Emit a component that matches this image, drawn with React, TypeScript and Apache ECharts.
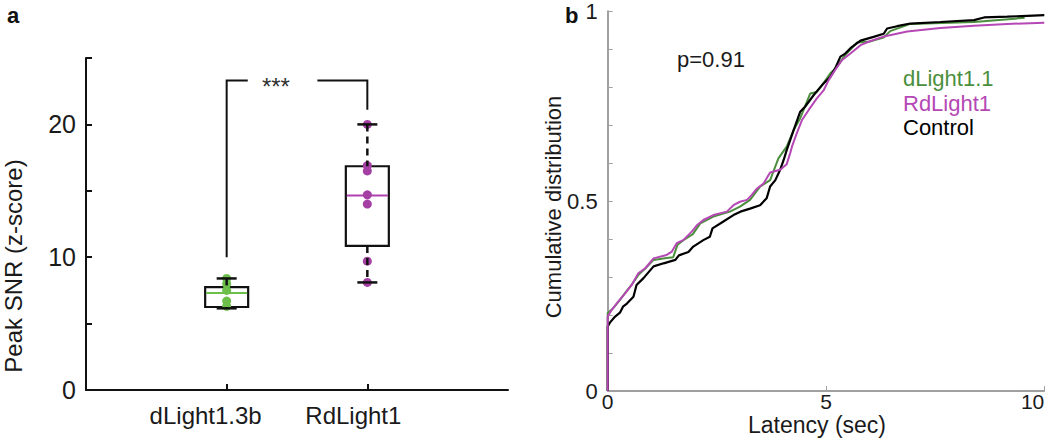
import React, { useEffect, useRef } from "react";
import * as echarts from "echarts";

// ---------- Panel a data ----------
const groupNames = ["dLight1.3b", "RdLight1"];
const groupPositions = [1, 2];
const dLightPoints = [8.4, 8.0, 7.5, 6.7, 6.3];
const rdLightPoints = [20.0, 16.9, 16.5, 14.7, 14.0, 9.7, 8.1];
// [min, q1, median, q3, max]
const dLightBox = [6.15, 6.25, 7.3, 7.75, 8.4];
const rdLightBox = [8.1, 10.85, 14.65, 16.85, 20.0];
const snrTickValues = [0, 5, 10, 15, 20, 25];
const snrLabelValues = [0, 10, 20];
// [leftX, rightX, leftBottom, rightBottom, top, gapStart, gapEnd, starX]
const bracket = [1, 2, 10, 21.1, 23.3, 1.15, 1.645, 1.35];

// ---------- Panel b data ----------
const latencyTicks = [0, 5, 10];
const cdfLabelValues = [0, 0.5, 1];
const dLight11 = [
  [0, 0], [0, 0.205], [0.1, 0.215], [0.25, 0.235], [0.4, 0.258], [0.55, 0.28], [0.7, 0.305],
  [0.86, 0.322], [1.05, 0.345], [1.35, 0.35], [1.5, 0.352], [1.6, 0.385], [1.75, 0.398],
  [1.95, 0.413], [2.12, 0.441], [2.42, 0.459], [2.8, 0.472], [3.03, 0.485], [3.26, 0.503],
  [3.49, 0.538], [3.72, 0.555], [3.91, 0.612], [4.1, 0.643], [4.26, 0.687], [4.41, 0.718],
  [4.64, 0.783], [4.79, 0.787], [4.91, 0.805], [5.1, 0.836], [5.25, 0.853], [5.41, 0.88],
  [5.71, 0.917], [6.02, 0.92], [6.32, 0.93], [6.47, 0.947], [6.93, 0.966], [8.39, 0.971],
  [9.55, 0.982],
];
const rdLight1 = [
  [0, 0], [0, 0.196], [0.09, 0.213], [0.24, 0.235], [0.4, 0.257], [0.55, 0.279], [0.7, 0.31],
  [0.86, 0.323], [1.05, 0.349], [1.35, 0.358], [1.47, 0.367], [1.58, 0.389], [1.73, 0.397],
  [1.93, 0.42], [2.05, 0.437], [2.19, 0.45], [2.42, 0.463], [2.73, 0.472], [2.88, 0.489],
  [3.03, 0.498], [3.19, 0.503], [3.3, 0.516], [3.42, 0.533], [3.57, 0.546], [3.72, 0.575],
  [3.95, 0.582], [4.1, 0.597], [4.18, 0.626], [4.22, 0.643], [4.33, 0.678], [4.45, 0.713],
  [4.6, 0.739], [4.79, 0.77], [4.95, 0.792], [5.06, 0.818], [5.21, 0.845], [5.37, 0.871],
  [5.56, 0.888], [5.79, 0.91], [6.02, 0.921], [6.3, 0.932], [6.86, 0.946], [7.62, 0.955],
  [8.39, 0.961], [9.15, 0.966], [10, 0.969],
];
const control = [
  [0, 0], [0, 0.17], [0.05, 0.18], [0.17, 0.196], [0.28, 0.206], [0.35, 0.222], [0.44, 0.23],
  [0.59, 0.248], [0.66, 0.279], [0.82, 0.297], [1.05, 0.328], [1.28, 0.336], [1.55, 0.345],
  [1.63, 0.357], [1.85, 0.366], [1.96, 0.38], [2.19, 0.397], [2.34, 0.406], [2.4, 0.428],
  [2.65, 0.446], [2.88, 0.463], [3.04, 0.472], [3.26, 0.48], [3.49, 0.489], [3.64, 0.507],
  [3.72, 0.538], [3.84, 0.555], [3.95, 0.582], [4.03, 0.608], [4.1, 0.634], [4.18, 0.66],
  [4.26, 0.687], [4.41, 0.735], [4.52, 0.748], [4.72, 0.779], [4.91, 0.805], [5.1, 0.827],
  [5.21, 0.849], [5.33, 0.88], [5.44, 0.888], [5.56, 0.902], [5.79, 0.922], [6.09, 0.932],
  [6.32, 0.94], [6.4, 0.954], [6.63, 0.96], [6.93, 0.967], [7.62, 0.971], [8.39, 0.976],
  [8.62, 0.983], [9.15, 0.985], [10, 0.989],
];

const FONT = '"Liberation Sans", Arial, sans-serif';
const TEXT = "#1a1a1a";
const GREEN_DOT = "#6cc04a";
const PURPLE_DOT = "#a440a4";
const GREEN_LINE = "#4b8f3d";
const MAGENTA_LINE = "#b548b5";
const medianColors = [GREEN_DOT, "#b040b0"];

export default function App() {
  const ref = useRef<HTMLDivElement>(null);

  useEffect(() => {
    if (!ref.current) return;
    const chart = echarts.init(ref.current, undefined, { renderer: "svg" });

    const boxData = [
      [groupPositions[0], ...dLightBox],
      [groupPositions[1], ...rdLightBox],
    ];

    const option: any = {
      animation: false,
      textStyle: { fontFamily: FONT },
      grid: [
        { left: 86, top: 58, width: 422, height: 332, containLabel: false, outerBoundsMode: "none" },
        { left: 607.7, top: 11, width: 436.6, height: 380, containLabel: false, outerBoundsMode: "none" },
      ],
      xAxis: [
        {
          gridIndex: 0,
          type: "value",
          min: 0,
          max: 3,
          interval: 1,
          splitLine: { show: false },
          axisLine: { show: true, lineStyle: { color: "#111", width: 2 } },
          axisTick: { show: true, inside: true, length: 6, customValues: groupPositions, lineStyle: { color: "#111", width: 2 } },
          axisLabel: {
            show: true,
            customValues: groupPositions,
            margin: 13,
            fontSize: 24,
            color: TEXT,
            fontFamily: FONT,
            formatter: (v: number) => {
              const i = groupPositions.indexOf(v);
              if (i < 0) return "";
              return i === 0 ? `{a|${groupNames[i]}}` : `{b|${groupNames[i]}}`;
            },
            rich: {
              a: { fontSize: 24, color: TEXT, fontFamily: FONT, padding: [0, 42, 0, 0] },
              b: { fontSize: 24, color: TEXT, fontFamily: FONT, padding: [0, 28, 0, 0] },
            },
          },
        },
        {
          gridIndex: 1,
          type: "value",
          min: 0,
          max: 10,
          interval: 5,
          splitLine: { show: false },
          axisLine: { show: true, lineStyle: { color: "#808080", width: 1.5 } },
          axisTick: { show: true, inside: true, length: 5, lineStyle: { color: "#a0a0a0", width: 1 } },
          axisLabel: {
            show: true,
            customValues: latencyTicks,
            margin: 0,
            fontSize: 21,
            color: TEXT,
            fontFamily: FONT,
            alignMaxLabel: "right",
          },
        },
      ],
      yAxis: [
        {
          gridIndex: 0,
          type: "value",
          min: 0,
          max: 25,
          interval: 5,
          splitLine: { show: false },
          axisLine: { show: true, lineStyle: { color: "#111", width: 2 } },
          axisTick: { show: true, inside: true, length: 6, customValues: snrTickValues, lineStyle: { color: "#111", width: 2 } },
          axisLabel: { show: true, customValues: snrLabelValues, margin: 10, fontSize: 25, color: TEXT, fontFamily: FONT },
        },
        {
          gridIndex: 1,
          type: "value",
          min: 0,
          max: 1,
          interval: 0.1,
          splitLine: { show: false },
          axisLine: { show: true, lineStyle: { color: "#808080", width: 1.5 } },
          axisTick: { show: true, inside: true, length: 5, lineStyle: { color: "#a0a0a0", width: 1 } },
          axisLabel: {
            show: true,
            customValues: cdfLabelValues,
            margin: 10,
            fontSize: 22,
            color: TEXT,
            fontFamily: FONT,
            formatter: (v: number) => String(Math.round(v * 10) / 10),
          },
        },
      ],
      series: [
        // boxes + medians
        {
          type: "custom",
          xAxisIndex: 0,
          yAxisIndex: 0,
          z: 2,
          data: boxData,
          renderItem: (params: any, api: any) => {
            const x = api.value(0);
            const q1 = api.coord([x, api.value(2)]);
            const med = api.coord([x, api.value(3)]);
            const q3 = api.coord([x, api.value(4)]);
            const hw = 21.5;
            return {
              type: "group",
              children: [
                {
                  type: "rect",
                  shape: { x: q1[0] - hw, y: q3[1], width: hw * 2, height: q1[1] - q3[1] },
                  style: { fill: "#fff", stroke: "#111", lineWidth: 2.2 },
                },
                {
                  type: "line",
                  shape: { x1: med[0] - hw + 1, y1: med[1], x2: med[0] + hw - 1, y2: med[1] },
                  style: { stroke: medianColors[params.dataIndex], lineWidth: 2 },
                },
              ],
            };
          },
        },
        // dots
        {
          type: "scatter",
          xAxisIndex: 0,
          yAxisIndex: 0,
          z: 3,
          symbolSize: 9,
          itemStyle: { color: GREEN_DOT, opacity: 1 },
          data: dLightPoints.map((v) => [groupPositions[0], v]),
        },
        {
          type: "scatter",
          xAxisIndex: 0,
          yAxisIndex: 0,
          z: 3,
          symbolSize: 9,
          itemStyle: { color: PURPLE_DOT, opacity: 1 },
          data: rdLightPoints.map((v) => [groupPositions[1], v]),
        },
        // whiskers + caps
        {
          type: "custom",
          xAxisIndex: 0,
          yAxisIndex: 0,
          z: 4,
          data: boxData,
          renderItem: (params: any, api: any) => {
            const x = api.value(0);
            const mn = api.coord([x, api.value(1)]);
            const q1 = api.coord([x, api.value(2)]);
            const q3 = api.coord([x, api.value(4)]);
            const mx = api.coord([x, api.value(5)]);
            const cw = 10;
            const ws = { stroke: "#111", lineWidth: 2.5, lineDash: [7, 5] };
            const cs = { stroke: "#111", lineWidth: 2.5 };
            return {
              type: "group",
              children: [
                { type: "line", shape: { x1: mx[0], y1: mx[1], x2: q3[0], y2: q3[1] }, style: ws },
                { type: "line", shape: { x1: q1[0], y1: q1[1], x2: mn[0], y2: mn[1] }, style: ws },
                { type: "line", shape: { x1: mx[0] - cw, y1: mx[1], x2: mx[0] + cw, y2: mx[1] }, style: cs },
                { type: "line", shape: { x1: mn[0] - cw, y1: mn[1], x2: mn[0] + cw, y2: mn[1] }, style: cs },
              ],
            };
          },
        },
        // significance bracket
        {
          type: "custom",
          xAxisIndex: 0,
          yAxisIndex: 0,
          z: 2,
          data: [bracket],
          renderItem: (params: any, api: any) => {
            const l = api.value(0), r = api.value(1);
            const lb = api.value(2), rb = api.value(3), top = api.value(4);
            const g0 = api.value(5), g1 = api.value(6), sx = api.value(7);
            const p = (a: number, b: number) => api.coord([a, b]);
            const st = { stroke: "#111", lineWidth: 2, fill: "none" };
            const star = p(sx, top);
            return {
              type: "group",
              children: [
                { type: "polyline", shape: { points: [p(l, lb), p(l, top), p(g0, top)] }, style: st },
                { type: "polyline", shape: { points: [p(g1, top), p(r, top), p(r, rb)] }, style: st },
                {
                  type: "text",
                  x: star[0],
                  y: star[1] + 6,
                  style: { text: "***", fill: "#333", font: `24px ${FONT}`, align: "center", verticalAlign: "middle" },
                },
              ],
            };
          },
        },
        // CDF lines
        {
          name: "dLight1.1",
          type: "line",
          xAxisIndex: 1,
          yAxisIndex: 1,
          showSymbol: false,
          symbol: "none",
          data: dLight11,
          lineStyle: { color: GREEN_LINE, width: 2 },
          z: 2,
        },
        {
          name: "Control",
          type: "line",
          xAxisIndex: 1,
          yAxisIndex: 1,
          showSymbol: false,
          symbol: "none",
          data: control,
          lineStyle: { color: "#000", width: 2.2 },
          z: 3,
        },
        {
          name: "RdLight1",
          type: "line",
          xAxisIndex: 1,
          yAxisIndex: 1,
          showSymbol: false,
          symbol: "none",
          data: rdLight1,
          lineStyle: { color: MAGENTA_LINE, width: 2 },
          z: 4,
        },
      ],
      graphic: [
        { type: "text", x: 7, y: 15, style: { text: "a", font: `bold 22px ${FONT}`, fill: "#111", align: "left", verticalAlign: "middle" } },
        { type: "text", x: 565, y: 15, style: { text: "b", font: `bold 22px ${FONT}`, fill: "#111", align: "left", verticalAlign: "middle" } },
        {
          type: "text",
          x: 13,
          y: 266,
          rotation: Math.PI / 2,
          style: { text: "Peak SNR (z-score)", font: `24px ${FONT}`, fill: TEXT, align: "center", verticalAlign: "middle" },
        },
        {
          type: "text",
          x: 553,
          y: 207,
          rotation: Math.PI / 2,
          style: { text: "Cumulative distribution", font: `22px ${FONT}`, fill: TEXT, align: "center", verticalAlign: "middle" },
        },
        { type: "text", x: 817, y: 425, style: { text: "Latency (sec)", font: `23px ${FONT}`, fill: TEXT, align: "center", verticalAlign: "middle" } },
        { type: "text", x: 677, y: 59, style: { text: "p=0.91", font: `22px ${FONT}`, fill: TEXT, align: "left", verticalAlign: "middle" } },
        { type: "text", x: 903, y: 78, style: { text: "dLight1.1", font: `22px ${FONT}`, fill: GREEN_LINE, align: "left", verticalAlign: "middle" } },
        { type: "text", x: 903, y: 103, style: { text: "RdLight1", font: `22px ${FONT}`, fill: MAGENTA_LINE, align: "left", verticalAlign: "middle" } },
        { type: "text", x: 903, y: 127, style: { text: "Control", font: `22px ${FONT}`, fill: "#000", align: "left", verticalAlign: "middle" } },
      ],
    };

    chart.setOption(option);
    return () => chart.dispose();
  }, []);

  return <div ref={ref} style={{ position: "absolute", left: 0, top: 0, width: 1050, height: 441, background: "#fff" }} />;
}
